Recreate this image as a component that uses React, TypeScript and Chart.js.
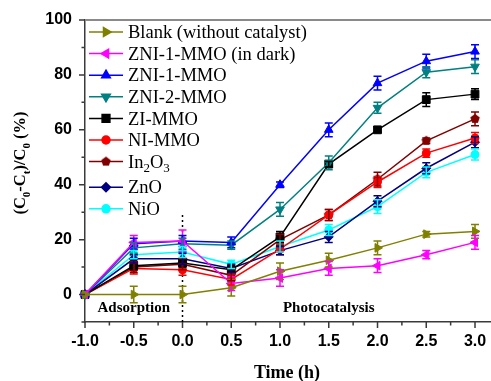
import React, { useEffect, useRef } from 'react';
import { Chart, registerables } from 'chart.js';
import { drawPoint } from 'chart.js/helpers';

Chart.register(...registerables);

// ---- data ----
const times = [-1, -0.5, 0, 0.5, 1, 1.5, 2, 2.5, 3];

const blankVals = [0, 0, 0, 2.5, 8.5, 12.5, 17, 22, 23];
const blankErr = [0, 3, 3, 3, 3, 2.5, 2.5, 1, 2.5];
const zni1DarkVals = [0, 19, 19.5, 4, 6, 9.5, 10.5, 14.5, 19];
const zni1DarkErr = [0, 2.5, 4, 2.5, 3, 2.5, 2.5, 1.5, 2.5];
const zni1Vals = [0, 18.5, 19.5, 19, 40, 60, 77, 85, 88.5];
const zni1Err = [0, 2, 2, 2, 1, 2.5, 2.5, 2.5, 2.5];
const zni2Vals = [0, 17, 18.5, 18, 31, 48, 68, 81, 83];
const zni2Err = [0, 2, 2, 1.5, 2.5, 2.5, 2, 2, 2.5];
const ziVals = [0, 10.5, 11.5, 9, 21, 47.5, 60, 71, 73];
const ziErr = [0, 1.5, 1.5, 1.5, 2, 1, 1, 2.5, 2];
const niVals = [0, 9.5, 9, 5.5, 16.5, 29, 41, 51.5, 57];
const niErr = [0, 2, 2, 2, 2, 2, 2, 1.5, 2];
const in2o3Vals = [0, 10, 11, 7, 20, 29, 42, 56, 64];
const in2o3Err = [0, 2, 2, 2, 2, 2, 2.5, 1, 2.5];
const znoVals = [0, 13, 13, 9.5, 16, 21, 34, 46, 55.5];
const znoErr = [0, 1.5, 2, 1.5, 1.5, 2, 2, 2, 2];
const nioVals = [0, 14.5, 15.5, 11, 17.5, 23.5, 32, 44.5, 51];
const nioErr = [0, 1.5, 2, 1.5, 2, 2, 2.5, 2, 2];

const seriesLabels = [
  'Blank (without catalyst)',
  'ZNI-1-MMO (in dark)',
  'ZNI-1-MMO',
  'ZNI-2-MMO',
  'ZI-MMO',
  'NI-MMO',
  'In_2O_3',
  'ZnO',
  'NiO',
];

const xMajorTicks = [-1, -0.5, 0, 0.5, 1, 1.5, 2, 2.5, 3];
const xTickLabels = ['-1.0', '-0.5', '0.0', '0.5', '1.0', '1.5', '2.0', '2.5', '3.0'];
const xMinorTicks = [-0.75, -0.25, 0.25, 0.75, 1.25, 1.75, 2.25, 2.75];
const yMajorTicks = [0, 20, 40, 60, 80, 100];
const yMinorTicks = [-10, 10, 30, 50, 70, 90];

const xTitle = 'Time (h)';
const yTitle = '(C_0-C_t)/C_0 (%)';
const regionLabels = ['Adsorption', 'Photocatalysis'];
const regionLabelX = [-0.5, 1.5];
const regionLabelY = -4.5;
const dividerX = 0;
const dividerRange = [-10, 30];

const SERIF = '"Liberation Serif", "Times New Roman", serif';
const SANS = '"Liberation Sans", Arial, sans-serif';

function parseRich(text: string) {
  const segs: { t: string; sub: boolean }[] = [];
  let i = 0;
  while (i < text.length) {
    if (text[i] === '_' && i + 1 < text.length) {
      segs.push({ t: text[i + 1], sub: true });
      i += 2;
    } else {
      const last = segs[segs.length - 1];
      if (last && !last.sub) last.t += text[i];
      else segs.push({ t: text[i], sub: false });
      i++;
    }
  }
  return segs;
}

function drawRich(
  ctx: CanvasRenderingContext2D,
  text: string,
  x: number,
  y: number,
  size: number,
  family: string,
  weight: string,
  align: 'left' | 'center'
) {
  const segs = parseRich(text);
  const subSize = Math.round(size * 0.68);
  const fontMain = `${weight} ${size}px ${family}`;
  const fontSub = `${weight} ${subSize}px ${family}`;
  let total = 0;
  const widths = segs.map((s) => {
    ctx.font = s.sub ? fontSub : fontMain;
    const w = ctx.measureText(s.t).width;
    total += w;
    return w;
  });
  let cx = align === 'center' ? x - total / 2 : x;
  ctx.textBaseline = 'alphabetic';
  ctx.textAlign = 'left';
  const base = y + size * 0.33;
  segs.forEach((s, k) => {
    ctx.font = s.sub ? fontSub : fontMain;
    ctx.fillText(s.t, cx, s.sub ? base + size * 0.25 : base);
    cx += widths[k];
  });
}

function makePentagon(color: string, r: number) {
  const c = document.createElement('canvas');
  const s = Math.ceil(r * 2 + 2);
  c.width = s;
  c.height = s;
  const g = c.getContext('2d')!;
  g.fillStyle = color;
  g.beginPath();
  for (let k = 0; k < 5; k++) {
    const a = -Math.PI / 2 + (k * 2 * Math.PI) / 5;
    const px = s / 2 + r * Math.cos(a);
    const py = s / 2 + r * Math.sin(a);
    if (k === 0) g.moveTo(px, py);
    else g.lineTo(px, py);
  }
  g.closePath();
  g.fill();
  return c;
}

const AXIS_COLOR = '#3a3a3a';

const decorPlugin = {
  id: 'decor',
  beforeDatasetsDraw(chart: any) {
    const { ctx, scales } = chart;
    const xs = scales.x;
    const ys = scales.y;
    ctx.save();
    ctx.strokeStyle = '#000';
    ctx.lineWidth = 1.5;
    ctx.setLineDash([2, 3]);
    const dx = xs.getPixelForValue(dividerX);
    ctx.beginPath();
    ctx.moveTo(dx, ys.getPixelForValue(dividerRange[0]));
    ctx.lineTo(dx, ys.getPixelForValue(dividerRange[1]));
    ctx.stroke();
    ctx.restore();
  },
  afterDatasetsDraw(chart: any) {
    const { ctx, scales } = chart;
    const ys = scales.y;
    chart.data.datasets.forEach((ds: any, i: number) => {
      const meta = chart.getDatasetMeta(i);
      ctx.save();
      ctx.strokeStyle = ds.borderColor;
      ctx.lineWidth = 1.5;
      meta.data.forEach((pt: any, j: number) => {
        const e = ds.errors[j];
        if (!e) return;
        const v = ds.data[j].y;
        const yt = ys.getPixelForValue(v + e);
        const yb = ys.getPixelForValue(v - e);
        const px = pt.x;
        ctx.beginPath();
        ctx.moveTo(px, yt);
        ctx.lineTo(px, yb);
        ctx.moveTo(px - 4, yt);
        ctx.lineTo(px + 4, yt);
        ctx.moveTo(px - 4, yb);
        ctx.lineTo(px + 4, yb);
        ctx.stroke();
      });
      ctx.restore();
    });
  },
  afterDraw(chart: any) {
    const { ctx, chartArea, scales } = chart;
    const xs = scales.x;
    const ys = scales.y;
    ctx.save();
    ctx.strokeStyle = '#8a8a8a';
    ctx.lineWidth = 2;
    ctx.beginPath();
    ctx.moveTo(chartArea.left, chartArea.top);
    ctx.lineTo(chartArea.right, chartArea.top);
    ctx.stroke();
    ctx.strokeStyle = AXIS_COLOR;
    ctx.lineWidth = 1.5;
    const bottom = chartArea.bottom;
    const left = chartArea.left;
    ctx.beginPath();
    xMajorTicks.forEach((v) => {
      const p = xs.getPixelForValue(v);
      ctx.moveTo(p, bottom);
      ctx.lineTo(p, bottom + 6);
    });
    xMinorTicks.forEach((v) => {
      const p = xs.getPixelForValue(v);
      ctx.moveTo(p, bottom);
      ctx.lineTo(p, bottom + 3.5);
    });
    yMajorTicks.forEach((v) => {
      const p = ys.getPixelForValue(v);
      ctx.moveTo(left, p);
      ctx.lineTo(left - 6, p);
    });
    yMinorTicks.forEach((v) => {
      const p = ys.getPixelForValue(v);
      ctx.moveTo(left, p);
      ctx.lineTo(left - 3.5, p);
    });
    ctx.stroke();

    // x tick labels
    ctx.fillStyle = '#000';
    ctx.font = `bold 16px ${SANS}`;
    ctx.textAlign = 'center';
    ctx.textBaseline = 'middle';
    xMajorTicks.forEach((v, k) => {
      ctx.fillText(xTickLabels[k], xs.getPixelForValue(v), bottom + 20);
    });

    regionLabels.forEach((t, k) => {
      drawRich(ctx, t, xs.getPixelForValue(regionLabelX[k]), ys.getPixelForValue(regionLabelY), 15, SERIF, 'bold', 'center');
    });

    drawRich(ctx, xTitle, 287, 372, 18, SERIF, 'bold', 'center');
    ctx.save();
    ctx.translate(20, 163);
    ctx.rotate(-Math.PI / 2);
    drawRich(ctx, yTitle, 0, 0, 16.5, SERIF, 'bold', 'center');
    ctx.restore();

    const lx0 = chartArea.left + 4;
    const lx1 = lx0 + 34;
    chart.data.datasets.forEach((ds: any, i: number) => {
      const y = 32 + i * 21.6 + (i >= 7 ? 4 : 0);
      ctx.save();
      ctx.strokeStyle = ds.borderColor;
      ctx.fillStyle = ds.borderColor;
      ctx.lineWidth = 1.5;
      ctx.beginPath();
      ctx.moveTo(lx0, y);
      ctx.lineTo(lx1, y);
      ctx.stroke();
      drawPoint(ctx, {
        pointStyle: ds.pointStyle,
        rotation: ds.pointRotation || 0,
        radius: ds.pointRadius,
        borderWidth: 1,
      } as any, (lx0 + lx1) / 2, y);
      ctx.restore();
      ctx.fillStyle = '#000';
      drawRich(ctx, ds.label, lx1 + 5, y, 18.5, SERIF, 'normal', 'left');
    });
    ctx.restore();
  },
};

export default function App() {
  const ref = useRef<HTMLCanvasElement | null>(null);
  useEffect(() => {
    const canvas = ref.current;
    if (!canvas) return;
    const pent = makePentagon('#800000', 5);
    const mk = (vals: number[], errs: number[], label: string, color: string, style: any, radius: number, rot = 0) => ({
      label,
      data: times.map((t, i) => ({ x: t, y: vals[i] })),
      errors: errs,
      borderColor: color,
      backgroundColor: color,
      pointBackgroundColor: color,
      pointBorderColor: color,
      pointStyle: style,
      pointRadius: radius,
      pointRotation: rot,
      pointBorderWidth: 1,
      borderWidth: 1.5,
      clip: false,
      tension: 0,
    });
    const datasets = [
      mk(blankVals, blankErr, seriesLabels[0], '#808000', 'triangle', 5, 90),
      mk(zni1DarkVals, zni1DarkErr, seriesLabels[1], '#ff00ff', 'triangle', 5, -90),
      mk(zni1Vals, zni1Err, seriesLabels[2], '#0000ff', 'triangle', 5, 0),
      mk(zni2Vals, zni2Err, seriesLabels[3], '#008080', 'triangle', 5, 180),
      mk(ziVals, ziErr, seriesLabels[4], '#000000', 'rect', 5.5, 0),
      mk(niVals, niErr, seriesLabels[5], '#ff0000', 'circle', 4, 0),
      mk(in2o3Vals, in2o3Err, seriesLabels[6], '#800000', pent, 5, 0),
      mk(znoVals, znoErr, seriesLabels[7], '#000080', 'rectRot', 4.5, 0),
      mk(nioVals, nioErr, seriesLabels[8], '#00ffff', 'circle', 4, 0),
    ];
    const chart = new Chart(canvas, {
      type: 'line',
      data: { datasets: datasets as any },
      options: {
        responsive: false,
        animation: false,
        layout: { autoPadding: false, padding: { top: 20, left: 0, right: 0, bottom: 0 } },
        plugins: { legend: { display: false }, tooltip: { enabled: false } },
        scales: {
          x: {
            type: 'linear',
            min: -1,
            max: 3.164,
            grid: { display: false, drawTicks: false },
            border: { display: true, color: AXIS_COLOR, width: 1.5 },
            afterBuildTicks: (s: any) => {
              s.ticks = xMajorTicks.map((v) => ({ value: v }));
            },
            afterFit: (s: any) => {
              s.height = 59;
            },
            ticks: { display: false },
          },
          y: {
            type: 'linear',
            min: -10,
            max: 100,
            grid: { display: false, drawTicks: true, tickLength: 13 },
            border: { display: true, color: AXIS_COLOR, width: 1.5 },
            afterBuildTicks: (s: any) => {
              s.ticks = yMajorTicks.map((v) => ({ value: v }));
            },
            afterFit: (s: any) => {
              s.width = 85;
            },
            ticks: {
              padding: 0,
              autoSkip: false,
              color: '#000',
              font: { family: SANS, size: 16, weight: 'bold' },
              callback: (v: any) => String(v),
            },
          },
        },
      },
      plugins: [decorPlugin],
    });
    return () => chart.destroy();
  }, []);
  return (
    <div style={{ position: 'absolute', left: 0, top: 0, width: 491, height: 381 }}>
      <canvas ref={ref} width={491} height={381} />
    </div>
  );
}
